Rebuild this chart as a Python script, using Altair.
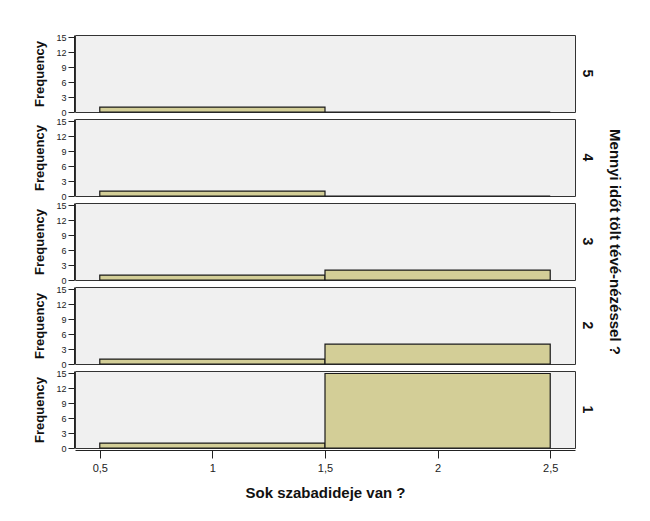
import altair as alt
import pandas as pd

groups = ["5", "4", "3", "2", "1"]
bin_start = [0.5, 1.5]
bin_end = [1.5, 2.5]
counts_first_bin = [1, 1, 1, 1, 1]
counts_second_bin = [0, 0, 2, 4, 15]
x_ticks = [0.5, 1, 1.5, 2, 2.5]
y_ticks = [0, 3, 6, 9, 12, 15]

rows = []
for g, c1, c2 in zip(groups, counts_first_bin, counts_second_bin):
    rows.append({"grp": g, "x0": bin_start[0], "x1": bin_end[0], "count": c1})
    rows.append({"grp": g, "x0": bin_start[1], "x1": bin_end[1], "count": c2})
df = pd.DataFrame(rows)

FONT = "Liberation Sans"

chart = alt.Chart(df).mark_bar(
    fill="#d3ce97", stroke="#1a1a1a", strokeWidth=1.2
).encode(
    x=alt.X("x0:Q",
            scale=alt.Scale(domain=[0.39, 2.61], nice=False, zero=False),
            axis=alt.Axis(values=x_ticks, title="Sok szabadideje van ?",
                          labelExpr="replace(format(datum.value, ''), '.', ',')",
                          grid=False, tickSize=8, tickColor="#222", domainColor="#222",
                          labelFont=FONT, labelFontSize=11, labelColor="#222", labelPadding=4,
                          titleFont=FONT, titleFontSize=15, titleFontWeight="bold",
                          titleColor="#111", titlePadding=12)),
    x2="x1:Q",
    y=alt.Y("count:Q",
            scale=alt.Scale(domain=[0, 15.5], nice=False),
            axis=alt.Axis(values=y_ticks, title="Frequency", grid=False,
                          tickSize=6, tickColor="#222", domainColor="#222",
                          labelFont=FONT, labelFontSize=9, labelColor="#222", labelPadding=2,
                          titleFont=FONT, titleFontSize=13, titleFontWeight="bold",
                          titleColor="#111", titlePadding=9)),
    y2=alt.datum(0),
).properties(
    width=500, height=77
).facet(
    row=alt.Row("grp:N", sort=groups,
                header=alt.Header(title="Mennyi időt tölt tévé-nézéssel ?",
                                  titleOrient="right", titleAngle=90,
                                  titleFont=FONT, titleFontSize=15, titleFontWeight="bold",
                                  titleColor="#111", titlePadding=3,
                                  labelOrient="right", labelAngle=90,
                                  labelFont=FONT, labelFontSize=14, labelFontWeight="bold",
                                  labelColor="#111", labelPadding=4)),
    spacing=4
).configure_view(
    fill="#f0f0f0", stroke="#333", strokeWidth=1
).properties(
    padding={"left": 25, "top": 25, "right": 5, "bottom": 5},
    background="white"
)

chart.save("out.html", embed_options={"renderer": "svg", "actions": False})
